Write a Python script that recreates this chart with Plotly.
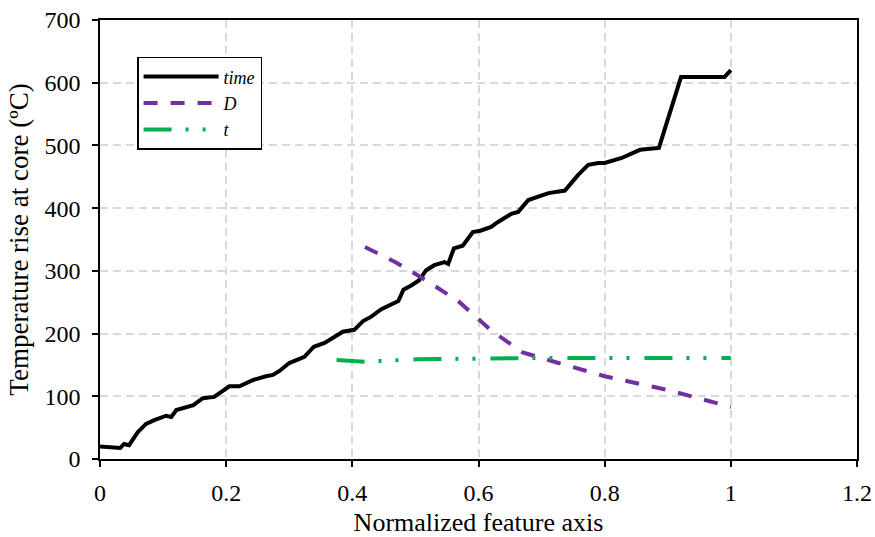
import plotly.graph_objects as go

# time series
time_x = [0.0, 0.025, 0.032, 0.038, 0.046, 0.06, 0.073, 0.086, 0.105, 0.113, 0.121, 0.148,
          0.163, 0.181, 0.205, 0.221, 0.243, 0.263, 0.274, 0.284, 0.3, 0.324, 0.339, 0.356,
          0.385, 0.403, 0.417, 0.43, 0.446, 0.473, 0.481, 0.494, 0.506, 0.517, 0.53, 0.546,
          0.552, 0.561, 0.575, 0.591, 0.603, 0.62, 0.631, 0.652, 0.663, 0.679, 0.692, 0.711,
          0.737, 0.758, 0.774, 0.79, 0.8, 0.827, 0.856, 0.886, 0.921, 0.99, 1.0]
time_y = [20, 17.5, 17.5, 24, 22, 43, 56, 62, 69, 67, 78, 86,
          97, 99, 116, 116, 126, 132, 134, 140, 153, 163, 179, 185,
          203, 206, 220, 227, 239, 252, 270, 277, 285, 301, 309, 314,
          311, 336, 340, 362, 364, 370, 378, 391, 394, 413, 418, 424,
          428, 453, 469, 472, 472, 480, 493, 496, 609, 609, 620]

# D series
d_x = [0.42, 0.47, 0.52, 0.57, 0.62, 0.67, 0.72, 0.8, 0.9, 1.0]
d_y = [338, 313, 283, 250, 205, 170, 155, 132, 110, 83]

# t series
t_x = [0.375, 0.42, 0.5, 0.55, 0.6, 0.7, 0.8, 1.0]
t_y = [158, 155, 159, 159, 160, 161, 161, 161]

x_ticks = [0, 0.2, 0.4, 0.6, 0.8, 1, 1.2]
x_labels = ["0", "0.2", "0.4", "0.6", "0.8", "1", "1.2"]
y_ticks = [0, 100, 200, 300, 400, 500, 600, 700]

FONT = "Liberation Serif"

fig = go.Figure()
fig.add_trace(go.Scatter(x=time_x, y=time_y, mode="lines", name="<i>time</i>",
                         line=dict(color="black", width=4)))
fig.add_trace(go.Scatter(x=d_x, y=d_y, mode="lines", name="<i>D</i>",
                         line=dict(color="#7030A0", width=4, dash="14px,13px")))
fig.add_trace(go.Scatter(x=t_x, y=t_y, mode="lines", name="<i>t</i>",
                         line=dict(color="#00B050", width=4, dash="28px,14px,3px,14px,3px,15px")))

axis_common = dict(showline=True, linecolor="black", linewidth=1.5, mirror=True,
                   ticks="outside", ticklen=6, tickwidth=1.5, tickcolor="black",
                   showgrid=True, gridcolor="#d9d9d9", gridwidth=1.5, griddash="8px,5px",
                   zeroline=False, automargin=False,
                   tickfont=dict(family=FONT, size=24, color="black"))

fig.update_xaxes(range=[0, 1.2], tickvals=x_ticks, ticktext=x_labels,
                 ticklabelstandoff=5,
                 title=dict(text="Normalized feature axis", font=dict(family=FONT, size=26, color="black"), standoff=12),
                 **axis_common)
fig.update_yaxes(range=[0, 700], tickvals=y_ticks, ticklabelstandoff=7,
                 title=dict(text="Temperature rise at core (ºC)", font=dict(family=FONT, size=27, color="black"), standoff=8),
                 **axis_common)

fig.update_layout(
    width=875, height=537,
    margin=dict(l=100, r=18, t=20, b=78),
    plot_bgcolor="white", paper_bgcolor="white",
    font=dict(family=FONT, color="black"),
    legend=dict(x=0.049, y=0.916, xanchor="left", yanchor="top",
                bgcolor="white", bordercolor="black", borderwidth=1.5,
                font=dict(family=FONT, size=18, color="black"),
                itemwidth=75, tracegroupgap=0),
    showlegend=True,
)

fig.write_html("out.html")
